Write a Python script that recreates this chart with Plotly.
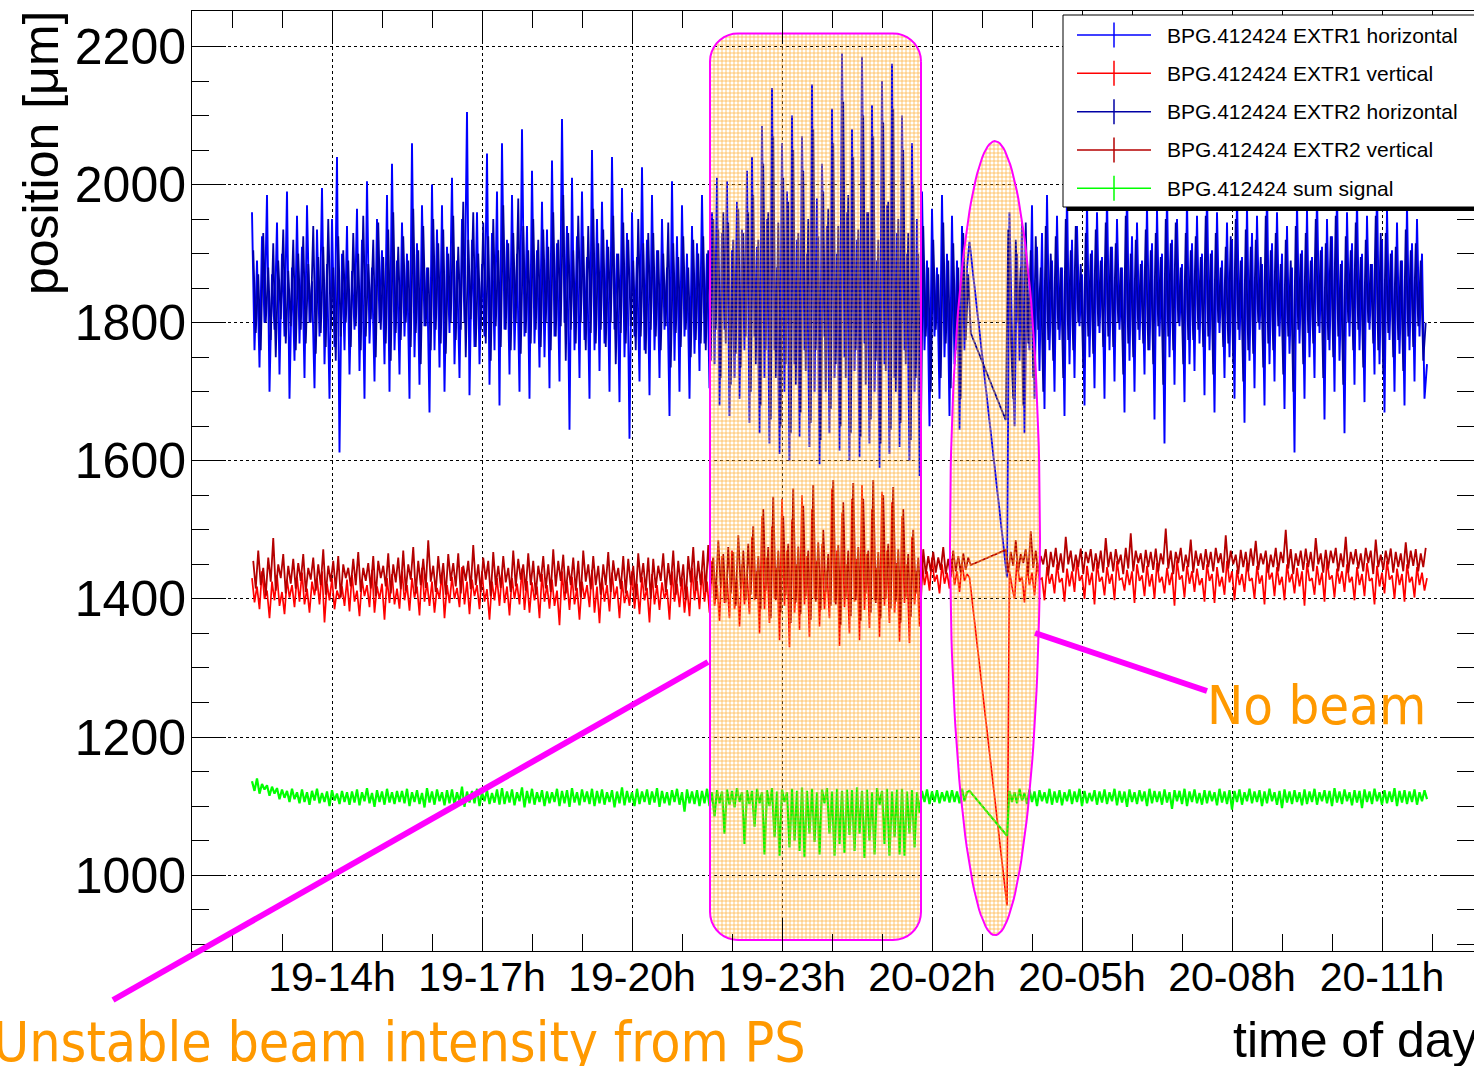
import numpy as np
import plotly.graph_objects as go

# ------------------------------------------------------------------ data
# time axis: hours counted from 19-00h
tick_hours = [14, 17, 20, 23, 26, 29, 32, 35]
tick_labels = ["19-14h", "19-17h", "19-20h", "19-23h", "20-02h", "20-05h", "20-08h", "20-11h"]

series_names = ["BPG.412424 EXTR1 horizontal", "BPG.412424 EXTR1 vertical",
                "BPG.412424 EXTR2 horizontal", "BPG.412424 EXTR2 vertical",
                "BPG.412424 sum signal"]

# sampling of the readings: first reading (hour) before / after the no-beam gap, step (hour)
STEP = 0.05
EXTR1_PRE_START, EXTR1_POST_START = 12.40, 27.50
EXTR2_PRE_START, EXTR2_POST_START = 12.425, 27.475

# EXTR1 horizontal [um]
extr1_h_pre = [
    1960, 1760, 1890, 1735, 1925, 1800, 1985, 1700, 1870, 1790, 1945, 1725, 1900, 1780, 1990, 1690, 1880, 1745, 1955, 1770,
    1910, 1720, 1970, 1800, 1860, 1705, 1935, 1780, 1995, 1740, 1885, 1690, 1950, 1765, 2040, 1612, 1900, 1760, 1940, 1725,
    1875, 1790, 1965, 1730, 1920, 1690, 2005, 1770, 1880, 1715, 1950, 1800, 1905, 1740, 1985, 1700, 2030, 1760, 1890, 1725,
    1945, 1780, 1900, 1690, 2060, 1750, 1915, 1710, 1970, 1795, 1880, 1670, 2000, 1760, 1935, 1735, 1970, 1700, 1910, 1785,
    2010, 1740, 1890, 1720, 1950, 1800, 2105, 1695, 1920, 1765, 1960, 1740, 1885, 1780, 2045, 1710, 1930, 1760, 1990, 1680,
    2060, 1790, 1920, 1725, 1985, 1760, 1900, 1700, 2080, 1780, 1940, 1690, 2020, 1770, 1905, 1735, 1975, 1750, 1935, 1705,
    2035, 1780, 1915, 1715, 2095, 1800, 1940, 1645, 2010, 1760, 1925, 1720, 1990, 1775, 1895, 1690, 2050, 1760, 1950, 1730,
    1975, 1770, 1920, 1700, 2040, 1790, 1900, 1685, 1995, 1750, 1930, 1632, 1960, 1780, 1895, 1715, 2025, 1760, 1920, 1695,
    1985, 1760, 1905, 1720, 1950, 1790, 1880, 1665, 2005, 1745, 1925, 1700, 1970, 1780, 1900, 1690, 1940, 1755, 1915, 1730,
    1985, 1770, 1900, 1705, 1960, 1740, 2010, 1680, 1930, 1790, 2005, 1665, 1905, 1720, 1975, 1690, 1935, 1760, 2020, 1655,
    2040, 1780, 1910, 1640, 2085, 1720, 1950, 1625, 2140, 1760, 1880, 1610, 2060, 1700, 1990, 1600, 2100, 1740, 1920, 1635,
    2070, 1760, 1900, 1620, 2145, 1700, 1980, 1595, 2030, 1780, 1940, 1640, 2110, 1720, 1900, 1615, 2190, 1750, 1960, 1600,
    2080, 1730, 1920, 1605, 2185, 1770, 1960, 1625, 2115, 1700, 1890, 1590, 2150, 1740, 1970, 1610, 2175, 1720, 1930, 1620,
    2100, 1760, 1900, 1600, 2060, 1700, 1950, 1578, 1990, 1760, 1890, 1650, 1965, 1780, 1880, 1690, 1985, 1750, 1900, 1665,
    1955, 1740, 1890, 1645, 1940, 1760, 1880, 1917]
extr1_h_post = [
    1431, 1960, 1780, 1650, 1900, 1745, 1945, 1640, 1880, 1760, 1970, 1690, 1910, 1730, 1930, 1675, 1985, 1760, 1890, 1700,
    1955, 1775, 1880, 1665, 1990, 1740, 1920, 1720, 1940, 1795, 1870, 1680, 1975, 1750, 1905, 1705, 1960, 1785, 1895, 1690,
    1985, 1760, 1910, 1715, 1950, 1790, 1880, 1670, 1995, 1745, 1925, 1700, 1945, 1775, 1890, 1725, 1970, 1760, 1915, 1660,
    1965, 1780, 1900, 1625, 1990, 1750, 1920, 1710, 1950, 1795, 1885, 1685, 1980, 1740, 1915, 1730, 1955, 1770, 1900, 1695,
    1990, 1760, 1905, 1670, 1960, 1785, 1890, 1720, 1945, 1750, 1920, 1690, 1985, 1775, 1895, 1655, 1970, 1745, 1930, 1705,
    1955, 1790, 1885, 1680, 1995, 1740, 1915, 1715, 1960, 1780, 1900, 1675, 1940, 1755, 1880, 1612, 1975, 1770, 1905, 1690,
    1965, 1750, 1895, 1720, 1985, 1785, 1910, 1660, 1950, 1760, 1925, 1700, 1990, 1745, 1890, 1640, 1960, 1780, 1915, 1710,
    1980, 1760, 1900, 1685, 1955, 1790, 1885, 1725, 1995, 1740, 1920, 1670, 1965, 1775, 1905, 1700, 1945, 1755, 1890, 1680,
    1970, 1760, 1915, 1715, 1950, 1780, 1900, 1690, 1740]

# EXTR1 vertical [um]
extr1_v_pre = [
    1430, 1395, 1418, 1385, 1440, 1400, 1412, 1372, 1425, 1398, 1435, 1390, 1410, 1378, 1428, 1402, 1420, 1388, 1432, 1396,
    1438, 1392, 1415, 1380, 1425, 1405, 1430, 1392, 1440, 1366, 1422, 1398, 1430, 1385, 1412, 1400, 1418, 1390, 1428, 1382,
    1435, 1396, 1412, 1375, 1428, 1404, 1420, 1388, 1442, 1380, 1418, 1400, 1422, 1370, 1430, 1394, 1436, 1392, 1415, 1386,
    1440, 1398, 1420, 1383, 1430, 1402, 1418, 1376, 1445, 1396, 1424, 1390, 1425, 1380, 1416, 1400, 1438, 1372, 1420, 1394,
    1432, 1400, 1416, 1388, 1446, 1392, 1425, 1378, 1428, 1404, 1420, 1385, 1440, 1396, 1414, 1370, 1425, 1398, 1430, 1390,
    1438, 1394, 1418, 1376, 1430, 1400, 1422, 1392, 1444, 1384, 1426, 1380, 1424, 1398, 1418, 1372, 1436, 1396, 1420, 1386,
    1428, 1390, 1412, 1362, 1440, 1398, 1425, 1384, 1432, 1392, 1416, 1370, 1425, 1400, 1420, 1388, 1442, 1380, 1418, 1365,
    1430, 1396, 1420, 1382, 1438, 1400, 1418, 1372, 1426, 1394, 1412, 1390, 1440, 1386, 1422, 1378, 1432, 1398, 1416, 1366,
    1436, 1392, 1420, 1384, 1424, 1400, 1414, 1370, 1440, 1396, 1422, 1388, 1430, 1380, 1418, 1375, 1445, 1398, 1426, 1385,
    1440, 1396, 1425, 1380, 1455, 1390, 1420, 1368, 1462, 1394, 1430, 1372, 1470, 1385, 1428, 1360, 1450, 1392, 1436, 1378,
    1490, 1398, 1440, 1350, 1520, 1385, 1460, 1365, 1505, 1400, 1445, 1340, 1545, 1390, 1470, 1330, 1515, 1380, 1450, 1355,
    1550, 1392, 1462, 1345, 1530, 1400, 1455, 1360, 1480, 1385, 1440, 1372, 1560, 1395, 1470, 1332, 1525, 1388, 1450, 1350,
    1545, 1396, 1458, 1340, 1565, 1384, 1465, 1358, 1530, 1398, 1445, 1345, 1555, 1390, 1470, 1365, 1540, 1380, 1452, 1338,
    1520, 1394, 1450, 1336, 1490, 1392, 1440, 1360, 1455, 1420, 1440, 1412, 1460, 1425, 1435, 1408, 1450, 1422, 1438, 1415,
    1458, 1420, 1440, 1410, 1452, 1426, 1436, 1431]
extr1_v_post = [
    956, 1440, 1418, 1400, 1455, 1425, 1432, 1395, 1448, 1420, 1438, 1405, 1452, 1428, 1430, 1398, 1446, 1422, 1436, 1408,
    1450, 1424, 1430, 1396, 1444, 1418, 1440, 1410, 1456, 1426, 1434, 1400, 1448, 1420, 1438, 1392, 1452, 1425, 1432, 1405,
    1446, 1422, 1436, 1398, 1455, 1428, 1430, 1412, 1442, 1420, 1440, 1394, 1450, 1426, 1434, 1404, 1448, 1418, 1436, 1400,
    1452, 1424, 1432, 1408, 1445, 1420, 1438, 1390, 1456, 1428, 1434, 1402, 1448, 1422, 1440, 1410, 1444, 1420, 1430, 1396,
    1450, 1426, 1436, 1394, 1446, 1418, 1432, 1406, 1455, 1424, 1440, 1398, 1442, 1420, 1436, 1410, 1452, 1426, 1430, 1400,
    1448, 1422, 1434, 1392, 1454, 1428, 1438, 1404, 1446, 1420, 1432, 1398, 1450, 1424, 1436, 1408, 1445, 1418, 1440, 1390,
    1452, 1426, 1430, 1406, 1448, 1420, 1438, 1396, 1456, 1428, 1434, 1402, 1444, 1422, 1440, 1410, 1450, 1424, 1432, 1398,
    1446, 1420, 1436, 1404, 1452, 1426, 1430, 1392, 1448, 1418, 1438, 1408, 1455, 1428, 1434, 1400, 1444, 1420, 1436, 1396,
    1450, 1424, 1432, 1402, 1446, 1420, 1438, 1412, 1430]

# EXTR2 horizontal [um]
extr2_h_pre = [
    1905, 1785, 1870, 1760, 1930, 1800, 1880, 1775, 1915, 1750, 1890, 1805, 1935, 1770, 1875, 1795, 1920, 1760, 1900, 1790,
    1925, 1770, 1885, 1800, 1940, 1755, 1895, 1785, 1910, 1765, 1950, 1790, 1880, 1745, 1925, 1780, 1905, 1800, 1890, 1765,
    1930, 1795, 1900, 1760, 1955, 1780, 1885, 1805, 1920, 1750, 1945, 1790, 1895, 1770, 1935, 1745, 1960, 1785, 1910, 1775,
    1925, 1800, 1890, 1765, 1965, 1785, 1905, 1740, 1940, 1795, 1880, 1760, 1950, 1790, 1915, 1770, 1935, 1755, 1900, 1800,
    1955, 1775, 1910, 1790, 1975, 1750, 1920, 1805, 1960, 1765, 1900, 1790, 1945, 1770, 1925, 1745, 1950, 1795, 1905, 1765,
    1970, 1790, 1915, 1760, 1930, 1800, 1980, 1755, 1940, 1785, 1905, 1770, 1950, 1790, 1920, 1765, 1935, 1800, 1910, 1760,
    1960, 1780, 1920, 1795, 1985, 1745, 1930, 1790, 1905, 1770, 1955, 1800, 1925, 1760, 1940, 1785, 1965, 1770, 1915, 1790,
    1935, 1765, 1910, 1800, 1955, 1740, 1900, 1785, 1945, 1770, 1920, 1795, 1890, 1760, 1950, 1780, 1915, 1755, 1930, 1790,
    1930, 1780, 1905, 1760, 1900, 1795, 1945, 1735, 1915, 1785, 1895, 1765, 1925, 1790, 1880, 1750, 1920, 1775, 1900, 1770,
    1925, 1760, 1905, 1745, 1950, 1790, 1935, 1720, 1960, 1770, 1945, 1710, 1920, 1755, 1965, 1735, 1930, 1780, 1960, 1700,
    1985, 1740, 1920, 1680, 2030, 1760, 1960, 1660, 2070, 1720, 1945, 1650, 2010, 1740, 1975, 1640, 2050, 1710, 1930, 1670,
    2020, 1730, 1950, 1655, 2080, 1760, 1925, 1630, 1990, 1700, 1965, 1675, 2060, 1740, 1940, 1650, 2120, 1720, 1985, 1640,
    2040, 1760, 1935, 1635, 2100, 1710, 1960, 1660, 2070, 1745, 1920, 1625, 2090, 1730, 1975, 1645, 2110, 1700, 1950, 1655,
    2050, 1740, 1930, 1630, 2000, 1720, 1900, 1620, 1940, 1780, 1880, 1700, 1920, 1790, 1870, 1720, 1945, 1770, 1890, 1705,
    1915, 1760, 1880, 1690, 1930, 1775, 1870, 1785]
extr2_h_post = [
    1659, 1935, 1780, 1690, 1920, 1800, 1880, 1680, 1945, 1770, 1905, 1720, 1925, 1790, 1880, 1700, 1940, 1775, 1900, 1745,
    1925, 1790, 1880, 1720, 1950, 1775, 1905, 1760, 1940, 1800, 1885, 1735, 1930, 1780, 1900, 1755, 1935, 1795, 1890, 1765,
    1945, 1780, 1910, 1765, 1915, 1800, 1880, 1725, 1955, 1770, 1900, 1750, 1920, 1790, 1885, 1770, 1935, 1760, 1905, 1740,
    1930, 1795, 1895, 1710, 1950, 1780, 1915, 1760, 1945, 1800, 1880, 1740, 1930, 1775, 1905, 1775, 1925, 1790, 1895, 1765,
    1955, 1780, 1900, 1725, 1930, 1800, 1880, 1765, 1910, 1770, 1925, 1740, 1950, 1790, 1890, 1715, 1935, 1760, 1910, 1755,
    1920, 1800, 1895, 1735, 1955, 1770, 1905, 1760, 1930, 1795, 1885, 1725, 1920, 1780, 1890, 1700, 1940, 1790, 1900, 1740,
    1930, 1785, 1890, 1770, 1950, 1795, 1905, 1720, 1915, 1775, 1925, 1750, 1955, 1780, 1885, 1710, 1925, 1800, 1905, 1760,
    1945, 1790, 1895, 1735, 1920, 1800, 1885, 1770, 1955, 1760, 1930, 1725, 1930, 1785, 1900, 1750, 1910, 1775, 1890, 1730,
    1935, 1780, 1905, 1765, 1915, 1795, 1890, 1745, 1800]

# EXTR2 vertical [um]
extr2_v_pre = [
    1455, 1415, 1470, 1420, 1445, 1405, 1460, 1425, 1488, 1412, 1450, 1430, 1465, 1408, 1448, 1422, 1458, 1415, 1452, 1426,
    1465, 1410, 1445, 1428, 1460, 1412, 1450, 1420, 1472, 1406, 1448, 1425, 1455, 1414, 1462, 1402, 1450, 1430, 1445, 1418,
    1458, 1420, 1468, 1410, 1445, 1426, 1452, 1415, 1462, 1404, 1455, 1430, 1448, 1418, 1466, 1408, 1450, 1424, 1460, 1414,
    1470, 1412, 1450, 1428, 1475, 1408, 1455, 1420, 1458, 1416, 1485, 1425, 1448, 1410, 1462, 1422, 1452, 1406, 1465, 1426,
    1452, 1418, 1466, 1408, 1448, 1426, 1455, 1414, 1478, 1420, 1450, 1410, 1460, 1428, 1455, 1404, 1468, 1420, 1448, 1416,
    1462, 1424, 1445, 1410, 1470, 1418, 1458, 1428, 1450, 1412, 1466, 1420, 1455, 1406, 1448, 1425, 1462, 1415, 1450, 1410,
    1472, 1418, 1455, 1426, 1464, 1408, 1448, 1420, 1460, 1412, 1455, 1402, 1470, 1425, 1450, 1414, 1462, 1420, 1448, 1406,
    1450, 1420, 1468, 1410, 1456, 1426, 1445, 1414, 1462, 1408, 1458, 1420, 1448, 1402, 1466, 1424, 1452, 1412, 1460, 1400,
    1458, 1416, 1448, 1426, 1466, 1410, 1452, 1420, 1470, 1406, 1455, 1418, 1450, 1398, 1462, 1424, 1475, 1412, 1455, 1420,
    1470, 1410, 1478, 1422, 1460, 1400, 1485, 1416, 1465, 1395, 1475, 1408, 1468, 1390, 1492, 1414, 1470, 1398, 1480, 1406,
    1505, 1400, 1462, 1385, 1530, 1412, 1475, 1372, 1548, 1398, 1470, 1380, 1520, 1405, 1480, 1365, 1560, 1395, 1476, 1378,
    1535, 1404, 1470, 1370, 1565, 1396, 1482, 1384, 1500, 1410, 1465, 1390, 1572, 1392, 1478, 1362, 1540, 1402, 1470, 1375,
    1568, 1398, 1475, 1368, 1545, 1408, 1470, 1380, 1572, 1394, 1468, 1372, 1550, 1400, 1480, 1386, 1562, 1396, 1472, 1366,
    1530, 1402, 1465, 1374, 1500, 1408, 1460, 1392, 1472, 1436, 1462, 1440, 1468, 1438, 1460, 1442, 1475, 1436, 1458, 1432,
    1470, 1440, 1462, 1438, 1466, 1442, 1460, 1449]
extr2_v_post = [
    1471, 1438, 1468, 1448, 1485, 1440, 1465, 1452, 1472, 1436, 1498, 1445, 1470, 1440, 1462, 1450, 1472, 1434, 1468, 1446,
    1474, 1442, 1466, 1438, 1490, 1450, 1470, 1440, 1464, 1446, 1473, 1436, 1468, 1452, 1472, 1440, 1466, 1444, 1470, 1438,
    1488, 1446, 1468, 1440, 1472, 1450, 1464, 1436, 1474, 1444, 1495, 1440, 1470, 1452, 1466, 1438, 1471, 1446, 1468, 1442,
    1473, 1440, 1466, 1450, 1502, 1444, 1470, 1436, 1468, 1452, 1474, 1440, 1464, 1446, 1486, 1438, 1470, 1448, 1466, 1442,
    1472, 1446, 1468, 1440, 1474, 1452, 1466, 1438, 1492, 1444, 1470, 1450, 1464, 1436, 1471, 1446, 1468, 1440, 1473, 1448,
    1484, 1442, 1466, 1450, 1470, 1438, 1464, 1446, 1474, 1440, 1468, 1452, 1500, 1444, 1472, 1436, 1466, 1448, 1470, 1442,
    1473, 1446, 1468, 1440, 1488, 1450, 1466, 1438, 1471, 1444, 1470, 1452, 1474, 1440, 1466, 1446, 1490, 1438, 1468, 1450,
    1472, 1444, 1466, 1440, 1474, 1452, 1470, 1436, 1486, 1446, 1464, 1442, 1470, 1450, 1473, 1438, 1468, 1446, 1466, 1440,
    1482, 1444, 1470, 1448, 1472, 1440, 1466, 1446, 1474]

# sum signal
sum_pre = [
    1136, 1122, 1140, 1118, 1132, 1124, 1130, 1115, 1128, 1118, 1126, 1110, 1124, 1112, 1122, 1106, 1125, 1110, 1120, 1104,
    1124, 1106, 1120, 1102, 1122, 1108, 1125, 1104, 1119, 1106, 1121, 1100, 1123, 1108, 1118, 1103, 1122, 1106, 1120, 1102,
    1121, 1105, 1124, 1101, 1120, 1107, 1126, 1104, 1119, 1099, 1123, 1106, 1121, 1102, 1125, 1105, 1120, 1103, 1122, 1106,
    1122, 1104, 1125, 1100, 1120, 1106, 1123, 1103, 1119, 1098, 1126, 1105, 1121, 1102, 1124, 1107, 1120, 1101, 1123, 1104,
    1124, 1102, 1120, 1106, 1128, 1099, 1121, 1105, 1122, 1104, 1125, 1100, 1120, 1107, 1123, 1103, 1119, 1105, 1124, 1102,
    1126, 1103, 1121, 1105, 1124, 1101, 1120, 1107, 1127, 1098, 1122, 1104, 1125, 1102, 1120, 1106, 1123, 1100, 1121, 1104,
    1120, 1106, 1125, 1100, 1122, 1104, 1123, 1099, 1126, 1105, 1120, 1101, 1124, 1106, 1121, 1103, 1125, 1100, 1122, 1104,
    1124, 1102, 1120, 1106, 1123, 1098, 1121, 1104, 1127, 1101, 1122, 1105, 1120, 1100, 1125, 1103, 1121, 1106, 1124, 1102,
    1121, 1105, 1126, 1099, 1122, 1104, 1120, 1101, 1123, 1106, 1125, 1102, 1120, 1092, 1124, 1104, 1121, 1103, 1123, 1100,
    1122, 1104, 1125, 1100, 1120, 1085, 1123, 1104, 1121, 1060, 1124, 1102, 1122, 1098, 1126, 1106, 1120, 1045, 1123, 1103,
    1122, 1070, 1125, 1104, 1120, 1030, 1123, 1100, 1126, 1055, 1121, 1028, 1124, 1106, 1120, 1040, 1125, 1050, 1122, 1035,
    1127, 1026, 1122, 1060, 1125, 1048, 1120, 1030, 1124, 1104, 1126, 1060, 1121, 1028, 1125, 1045, 1122, 1032, 1124, 1058,
    1123, 1035, 1127, 1060, 1122, 1025, 1124, 1050, 1120, 1030, 1126, 1102, 1122, 1045, 1125, 1028, 1121, 1055, 1124, 1030,
    1125, 1028, 1121, 1060, 1123, 1040, 1120, 1090, 1122, 1106, 1124, 1103, 1121, 1106, 1123, 1104, 1120, 1107, 1122, 1105,
    1123, 1106, 1121, 1104, 1125, 1107, 1120, 1122]
sum_post = [
    1057, 1122, 1106, 1120, 1104, 1125, 1108, 1119, 1103, 1124, 1106, 1121, 1100, 1123, 1107, 1120, 1104, 1125, 1102, 1121,
    1105, 1123, 1101, 1120, 1107, 1124, 1103, 1121, 1106, 1125, 1100, 1122, 1104, 1119, 1107, 1123, 1102, 1121, 1105, 1124,
    1103, 1120, 1107, 1125, 1101, 1122, 1105, 1121, 1099, 1124, 1106, 1120, 1103, 1123, 1107, 1121, 1100, 1125, 1104, 1122,
    1106, 1121, 1102, 1124, 1105, 1120, 1096, 1123, 1107, 1122, 1103, 1125, 1100, 1121, 1106, 1124, 1104, 1119, 1102, 1123,
    1104, 1122, 1107, 1120, 1101, 1125, 1105, 1121, 1103, 1123, 1095, 1122, 1106, 1124, 1102, 1120, 1107, 1125, 1104, 1121,
    1106, 1123, 1100, 1121, 1104, 1125, 1107, 1120, 1102, 1122, 1097, 1124, 1105, 1121, 1103, 1123, 1106, 1120, 1101, 1124,
    1103, 1121, 1106, 1125, 1102, 1120, 1107, 1123, 1104, 1122, 1100, 1126, 1105, 1121, 1103, 1124, 1107, 1120, 1101, 1123,
    1105, 1122, 1097, 1124, 1106, 1121, 1103, 1125, 1107, 1120, 1102, 1123, 1104, 1121, 1106, 1126, 1100, 1122, 1105, 1123,
    1103, 1121, 1106, 1124, 1102, 1120, 1107, 1123, 1110]

# highlighted periods (hours, um)
unstable_period = (21.56, 25.78)
unstable_span = (906, 2219)
nobeam_center = (27.26, 1488)
nobeam_half = (0.90, 575)

# ------------------------------------------------------------------ layout geometry
W, H = 1474, 1066
L, R, T, B = 192, 0, 11, 115
PW, PH = W - L - R, H - T - B
X_RANGE = [11.2, 11.2 + PW / 50.0]
Y_RANGE = [890.1, 890.1 + PH * 1.4482]

def pxx(px):
    return (px - L) / PW

def pxy(py):
    return (H - B - py) / PH

def times(start, values):
    return np.round(start + STEP * np.arange(len(values)), 4)

t1 = np.concatenate([times(EXTR1_PRE_START, extr1_h_pre), times(EXTR1_POST_START, extr1_h_post)])
t2 = np.concatenate([times(EXTR2_PRE_START, extr2_h_pre), times(EXTR2_POST_START, extr2_h_post)])

colors = ["rgb(0,0,255)", "rgb(255,0,0)", "rgb(0,0,165)", "rgb(180,0,0)", "rgb(0,255,0)"]
widths = [1.9, 1.7, 1.8, 1.8, 2.2]
series = [
    (t1, extr1_h_pre + extr1_h_post),
    (t1, extr1_v_pre + extr1_v_post),
    (t2, extr2_h_pre + extr2_h_post),
    (t2, extr2_v_pre + extr2_v_post),
    (t1, sum_pre + sum_post),
]

fig = go.Figure()
for (tt, vv), name, col, wd in zip(series, series_names, colors, widths):
    fig.add_trace(go.Scatter(x=tt, y=vv, mode="lines", name=name,
                             line=dict(color=col, width=wd), hoverinfo="skip"))

# hatched highlight regions
pattern = dict(shape="+", fgcolor="rgb(255,168,40)", bgcolor="rgba(255,255,255,0)",
               size=4, solidity=0.35, fgopacity=0.85)

def rounded_rect(t0, t1_, v0, v1, rpx=28, n=10):
    rt, rv = rpx / 50.0, rpx * 1.4482
    xs, ys = [], []
    corners = [(t1_ - rt, v1 - rv, 0, 90), (t0 + rt, v1 - rv, 90, 180),
               (t0 + rt, v0 + rv, 180, 270), (t1_ - rt, v0 + rv, 270, 360)]
    for cx, cy, a0, a1 in corners:
        a = np.radians(np.linspace(a0, a1, n))
        xs += list(cx + rt * np.cos(a))
        ys += list(cy + rv * np.sin(a))
    xs.append(xs[0]); ys.append(ys[0])
    return xs, ys

rx, ry = rounded_rect(unstable_period[0], unstable_period[1], unstable_span[0], unstable_span[1])
fig.add_trace(go.Scatter(x=rx, y=ry, mode="lines", fill="toself", fillpattern=pattern,
                         line=dict(color="rgb(255,0,255)", width=2), hoverinfo="skip",
                         showlegend=False))
ang = np.linspace(0, 2 * np.pi, 160)
ex = nobeam_center[0] + nobeam_half[0] * np.cos(ang)
ey = nobeam_center[1] + nobeam_half[1] * np.sin(ang)
fig.add_trace(go.Scatter(x=ex, y=ey, mode="lines", fill="toself", fillpattern=pattern,
                         line=dict(color="rgb(255,0,255)", width=2), hoverinfo="skip",
                         showlegend=False))

shapes = []
annotations = []
MAG = "rgb(255,0,255)"
ORANGE = "rgb(255,153,0)"
# callout lines
shapes.append(dict(type="line", xref="paper", yref="paper", x0=pxx(113), y0=pxy(1000),
                   x1=pxx(708), y1=pxy(662), line=dict(color=MAG, width=6), layer="above"))
shapes.append(dict(type="line", xref="paper", yref="paper", x0=pxx(1035), y0=pxy(633),
                   x1=pxx(1207), y1=pxy(691), line=dict(color=MAG, width=6), layer="above"))

# legend box with shadow
shapes.append(dict(type="rect", xref="paper", yref="paper", x0=pxx(1067), x1=pxx(1480),
                   y0=pxy(211), y1=pxy(19), fillcolor="black", line=dict(width=0), layer="above"))
shapes.append(dict(type="rect", xref="paper", yref="paper", x0=pxx(1063), x1=pxx(1477),
                   y0=pxy(207), y1=pxy(15), fillcolor="white", line=dict(color="black", width=1),
                   layer="above"))
row_y = [35, 73.3, 111.7, 150, 188.3]
for ry_, name, col in zip(row_y, series_names, colors):
    shapes.append(dict(type="line", xref="paper", yref="paper", x0=pxx(1077), x1=pxx(1151),
                       y0=pxy(ry_), y1=pxy(ry_), line=dict(color=col, width=1.5), layer="above"))
    shapes.append(dict(type="line", xref="paper", yref="paper", x0=pxx(1114), x1=pxx(1114),
                       y0=pxy(ry_ - 12.5), y1=pxy(ry_ + 12.5), line=dict(color=col, width=1.5),
                       layer="above"))
    annotations.append(dict(text=name, xref="paper", yref="paper", x=pxx(1165), y=pxy(ry_),
                            xanchor="left", yanchor="middle", showarrow=False,
                            font=dict(family="Liberation Sans, Arial", size=21, color="black")))

# axis titles
annotations.append(dict(text="position [\u03bcm]", xref="paper", yref="paper", x=pxx(41), y=pxy(153),
                        textangle=-90, xanchor="center", yanchor="middle", showarrow=False,
                        font=dict(family="Liberation Sans, Arial", size=50, color="black")))
annotations.append(dict(text="time of day", xref="paper", yref="paper", x=pxx(1231), y=pxy(1040),
                        xanchor="left", yanchor="middle", showarrow=False,
                        font=dict(family="Liberation Sans, Arial", size=50, color="black")))
# orange comments
annotations.append(dict(text="Unstable beam intensity from PS", xref="paper", yref="paper",
                        x=pxx(808), y=pxy(1042), xanchor="right", yanchor="middle", showarrow=False,
                        font=dict(family="DejaVu Sans Condensed, DejaVu Sans", size=55, color=ORANGE)))
annotations.append(dict(text="No beam", xref="paper", yref="paper",
                        x=pxx(1428), y=pxy(705), xanchor="right", yanchor="middle", showarrow=False,
                        font=dict(family="DejaVu Sans Condensed, DejaVu Sans", size=54, color=ORANGE)))

fig.update_layout(
    width=W, height=H, margin=dict(l=L, r=R, t=T, b=B),
    paper_bgcolor="white", plot_bgcolor="white", showlegend=False,
    shapes=shapes, annotations=annotations,
    xaxis=dict(range=X_RANGE, tickmode="array", tickvals=tick_hours, ticktext=tick_labels,
               ticks="inside", ticklen=33, tickwidth=1, tickcolor="black",
               minor=dict(dtick=1, tick0=0, ticks="inside", ticklen=17, tickcolor="black",
                          showgrid=False),
               showline=True, linecolor="black", linewidth=1, mirror="ticks",
               showgrid=True, gridcolor="black", griddash="dot", gridwidth=1, zeroline=False,
               ticklabelstandoff=-10,
               tickfont=dict(family="Liberation Sans, Arial", size=41, color="black")),
    yaxis=dict(range=Y_RANGE, tick0=0, dtick=200,
               ticks="inside", ticklen=34, tickwidth=1, tickcolor="black",
               minor=dict(dtick=50, tick0=0, ticks="inside", ticklen=17, tickcolor="black",
                          showgrid=False),
               showline=True, linecolor="black", linewidth=1, mirror="ticks",
               showgrid=True, gridcolor="black", griddash="dot", gridwidth=1, zeroline=False,
               ticklabelstandoff=-5,
               tickfont=dict(family="Liberation Sans, Arial", size=50, color="black")),
)

fig.write_html("out.html", config={"displayModeBar": False},
               post_script="document.body.style.margin='0px';")
